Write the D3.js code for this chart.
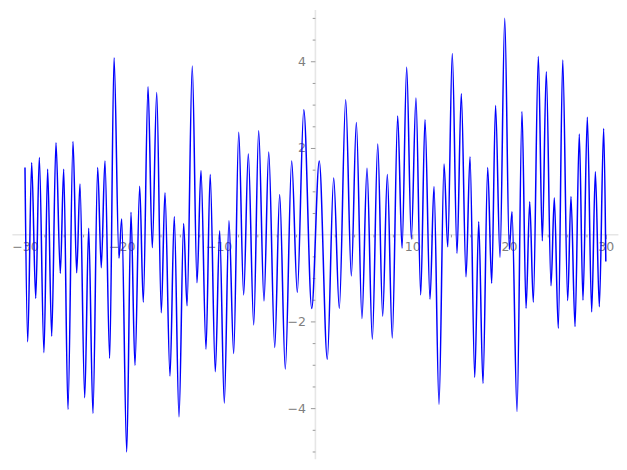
<!DOCTYPE html>
<html>
<head>
<meta charset="utf-8">
<script src="https://cdn.jsdelivr.net/npm/d3@7"></script>
<style>
  body { margin: 0; background: #fff; }
  text { font-family: "DejaVu Sans", sans-serif; }
</style>
</head>
<body>
<svg id="chart" width="627" height="470"></svg>
<script>
// extrema of the curve
var xs = [-30.0, -29.72, -29.31, -28.89, -28.52, -28.04, -27.66, -27.24, -26.80, -26.35,
  -26.00, -25.56, -25.04, -24.66, -24.32, -23.83, -23.42, -22.98, -22.49, -22.12,
  -21.74, -21.25, -20.80, -20.29, -20.01, -19.49, -19.05, -18.64, -18.15, -17.78,
  -17.29, -16.85, -16.39, -15.92, -15.54, -15.02, -14.58, -14.09, -13.61, -13.26,
  -12.72, -12.23, -11.82, -11.30, -10.87, -10.34, -9.89, -9.41, -8.93, -8.44,
  -7.92, -7.41, -6.93, -6.37, -5.86, -5.31, -4.82, -4.20, -3.69, -3.11,
  -2.45, -1.87, -1.20, -0.38, 0.40, 1.23, 1.89, 2.47, 3.13, 3.71,
  4.23, 4.81, 5.33, 5.88, 6.44, 6.95, 7.43, 7.94, 8.50, 8.95,
  9.43, 9.91, 10.39, 10.88, 11.32, 11.84, 12.25, 12.77, 13.29, 13.67,
  14.14, 14.63, 15.07, 15.56, 15.97, 16.46, 16.87, 17.31, 17.80, 18.21,
  18.61, 19.07, 19.56, 20.03, 20.31, 20.83, 21.34, 21.76, 22.14, 22.51,
  23.03, 23.44, 23.85, 24.34, 24.68, 25.09, 25.55, 26.06, 26.40, 26.82,
  27.26, 27.64, 28.09, 28.54, 28.92, 29.33, 29.78, 30.0]
var ys = [1.55, -2.47, 1.66, -1.47, 1.78, -2.72, 1.51, -2.34, 2.12, -0.89,
  1.51, -4.03, 2.15, -0.88, 1.17, -3.76, 0.15, -4.12, 1.55, -0.76,
  1.70, -2.85, 4.08, -0.54, 0.36, -5.01, 0.52, -3.01, 1.12, -1.56,
  3.41, -0.30, 3.28, -1.80, 0.97, -3.26, 0.42, -4.20, 0.26, -1.64,
  3.89, -1.11, 1.48, -2.64, 1.39, -3.16, 0.09, -3.88, 0.32, -2.74,
  2.36, -1.39, 1.86, -2.08, 2.40, -1.53, 1.91, -2.60, 0.93, -3.10,
  1.70, -1.33, 2.88, -1.70, 1.70, -2.87, 1.31, -1.70, 3.11, -0.95,
  2.59, -1.93, 1.53, -2.41, 2.09, -1.88, 1.39, -2.38, 2.74, -0.31,
  3.86, -0.10, 3.15, -1.39, 2.65, -1.49, 1.11, -3.91, 1.63, -0.28,
  4.18, -0.43, 3.25, -0.97, 1.80, -3.29, 0.30, -3.43, 1.55, -1.12,
  2.98, -0.52, 4.99, -0.34, 0.53, -4.08, 2.84, -1.70, 0.76, -1.56,
  4.11, -0.14, 3.76, -1.18, 0.85, -2.16, 4.03, -1.52, 0.88, -2.12,
  2.32, -1.51, 2.71, -1.78, 1.45, -1.66, 2.45, -0.62]

var xMajor = [-30, -20, -10, 10, 20, 30]
var yMajor = [-4, -2, 2, 4]

var svg = d3.select('#chart')
var x = d3.scaleLinear().domain([-31.3, 31.3]).range([12.4, 618.4])
var y = d3.scaleLinear().domain([-5.18, 5.18]).range([459.3, 10.1])

var axisColor = '#e6e6e6', tickColor = '#9a9a9a', labelColor = '#7f7f7f'

// axis lines through the origin
svg.append('line')
    .attr('x1', x(-31.3)).attr('x2', x(31.3))
    .attr('y1', y(0)).attr('y2', y(0))
    .attr('stroke', axisColor).attr('stroke-width', 1.6)
svg.append('line')
    .attr('x1', x(0)).attr('x2', x(0))
    .attr('y1', y(5.18)).attr('y2', y(-5.18))
    .attr('stroke', axisColor).attr('stroke-width', 1.6)

// x ticks
var xMinor = d3.range(-30, 31, 2).filter(function (v) { return v % 10 != 0 })
var xAxis = d3.axisBottom(x).tickValues(xMajor).tickSize(4.5).tickPadding(3)
    .tickFormat(function (d) { return d3.format('')(d).replace('-', '\u2212') })
var gx = svg.append('g').attr('transform', `translate(0,${y(0)})`).call(xAxis)
gx.select('.domain').remove()
gx.selectAll('.tick line').attr('stroke', tickColor)
gx.selectAll('text').attr('fill', labelColor).attr('font-size', '12.5px')
    .attr('font-family', '"DejaVu Sans", sans-serif')
var gxm = svg.append('g').attr('transform', `translate(0,${y(0)})`)
    .call(d3.axisBottom(x).tickValues(xMinor).tickSize(2.7).tickFormat(''))
gxm.select('.domain').remove()
gxm.selectAll('.tick line').attr('stroke', tickColor)

// y ticks
var yMinor = d3.range(-5, 5.01, 0.5).filter(function (v) { return v % 2 != 0 })
var yAxis = d3.axisLeft(y).tickValues(yMajor).tickSize(4.5).tickPadding(5)
    .tickFormat(function (d) { return d3.format('')(d).replace('-', '\u2212') })
var gy = svg.append('g').attr('transform', `translate(${x(0)},0)`).call(yAxis)
gy.select('.domain').remove()
gy.selectAll('.tick line').attr('stroke', tickColor)
gy.selectAll('text').attr('fill', labelColor).attr('font-size', '12.5px')
    .attr('font-family', '"DejaVu Sans", sans-serif')
var gym = svg.append('g').attr('transform', `translate(${x(0)},0)`)
    .call(d3.axisLeft(y).tickValues(yMinor).tickSize(2.7).tickFormat(''))
gym.select('.domain').remove()
gym.selectAll('.tick line').attr('stroke', tickColor)

// the curve
var pts = xs.map(function (v, i) { return [v, ys[i]] })
var line = d3.line()
    .x(function (d) { return x(d[0]) })
    .y(function (d) { return y(d[1]) })
    .curve(d3.curveMonotoneX)
svg.append('path')
    .datum(pts)
    .attr('d', line)
    .attr('fill', 'none')
    .attr('stroke', '#0000ff')
    .attr('stroke-width', 1.5)
</script>
</body>
</html>
